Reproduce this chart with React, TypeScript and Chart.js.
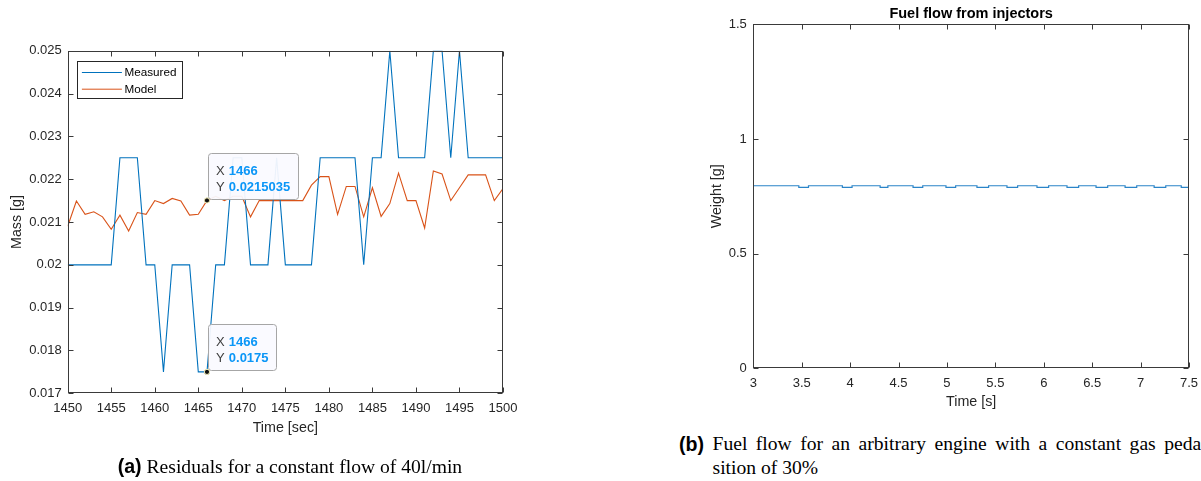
import React, { useEffect, useRef } from 'react';
import { Chart, registerables } from 'chart.js';

Chart.register(...registerables);

const SANS = "'Liberation Sans', Arial, Helvetica, sans-serif";
const SERIF = "'Liberation Serif', 'Times New Roman', serif";
const AXIS_TEXT = '#262626';

// ---------- (a) Residuals ----------
const residualTimes = [
  1450, 1451, 1452, 1453, 1454, 1455, 1456, 1457, 1458, 1459,
  1460, 1461, 1462, 1463, 1464, 1465, 1466, 1467, 1468, 1469,
  1470, 1471, 1472, 1473, 1474, 1475, 1476, 1477, 1478, 1479,
  1480, 1481, 1482, 1483, 1484, 1485, 1486, 1487, 1488, 1489,
  1490, 1491, 1492, 1493, 1494, 1495, 1496, 1497, 1498, 1499, 1500,
];
const measuredMass = [
  0.02, 0.02, 0.02, 0.02, 0.02, 0.02, 0.0225, 0.0225, 0.0225, 0.02,
  0.02, 0.0175, 0.02, 0.02, 0.02, 0.0175, 0.0175, 0.02, 0.02, 0.0225,
  0.0225, 0.02, 0.02, 0.02, 0.0225, 0.02, 0.02, 0.02, 0.02, 0.0225,
  0.0225, 0.0225, 0.0225, 0.0225, 0.02, 0.0225, 0.0225, 0.025, 0.0225, 0.0225,
  0.0225, 0.0225, 0.025, 0.025, 0.0225, 0.025, 0.0225, 0.0225, 0.0225, 0.0225, 0.0225,
];
const modelMass = [
  0.0209, 0.02149, 0.02118, 0.02124, 0.02112, 0.02083, 0.02116, 0.02079, 0.02122, 0.02118,
  0.0215, 0.02143, 0.02155, 0.02149, 0.02116, 0.02118, 0.0215035, 0.0216, 0.0215, 0.0216,
  0.0216, 0.02112, 0.0215, 0.0215, 0.0215, 0.0215, 0.0215, 0.0215, 0.02186, 0.02206,
  0.02206, 0.02118, 0.02183, 0.02183, 0.02112, 0.0218, 0.02113, 0.02143, 0.02214, 0.0215,
  0.0215, 0.02086, 0.02219, 0.02212, 0.0215, 0.0218, 0.0221, 0.0221, 0.0221, 0.0215, 0.02178,
];
const residualSeriesNames = ['Measured', 'Model'];
const tipTimes = [1466, 1466];
const tipValues = [0.0215035, 0.0175];
const tipTexts = ['0.0215035', '0.0175'];

// ---------- (b) Fuel flow ----------
const fuelTimes = [
  3, 3.47, 3.57, 3.92, 4.02, 4.31, 4.39, 4.65, 4.75, 4.99, 5.09, 5.31, 5.43, 5.62,
  5.73, 5.93, 6.05, 6.24, 6.36, 6.54, 6.66, 6.84, 6.96, 7.14, 7.26, 7.42, 7.5,
];
const fuelWeights = [
  0.796, 0.789, 0.796, 0.789, 0.796, 0.789, 0.796, 0.789, 0.796, 0.789, 0.796, 0.789, 0.796, 0.789,
  0.796, 0.789, 0.796, 0.789, 0.796, 0.789, 0.796, 0.789, 0.796, 0.789, 0.796, 0.789, 0.789,
];

const fmt = (v: number | string) => String(+Number(v).toFixed(5));

const matlabFrame = {
  id: 'matlabFrame',
  afterDatasetsDraw(chart: any) {
    const { ctx, chartArea: a, scales } = chart;
    const L = Math.round(a.left) + 0.5;
    const R = Math.round(a.right) - 0.5;
    const T = Math.round(a.top) + 0.5;
    const B = Math.round(a.bottom) - 0.5;
    ctx.save();
    ctx.strokeStyle = '#3a3a3a';
    ctx.lineWidth = 1;
    ctx.strokeRect(L, T, R - L, B - T);
    ctx.beginPath();
    const len = 5;
    scales.x.ticks.forEach((t: any) => {
      const p = Math.round(scales.x.getPixelForValue(t.value)) + 0.5;
      ctx.moveTo(p, B); ctx.lineTo(p, B - len);
      ctx.moveTo(p, T); ctx.lineTo(p, T + len);
    });
    scales.y.ticks.forEach((t: any) => {
      const p = Math.round(scales.y.getPixelForValue(t.value)) + 0.5;
      ctx.moveTo(L, p); ctx.lineTo(L + len, p);
      ctx.moveTo(R, p); ctx.lineTo(R - len, p);
    });
    ctx.stroke();
    ctx.restore();
  },
};

const boxLegend = {
  id: 'boxLegend',
  afterDraw(chart: any, _args: any, opts: any) {
    if (!opts || !opts.show) return;
    const { ctx, chartArea: a } = chart;
    const x0 = Math.round(a.left + 9.6) + 0.5;
    const y0 = Math.round(a.top + 10.6) + 0.5;
    const w = 105;
    const h = 37;
    ctx.save();
    ctx.fillStyle = '#ffffff';
    ctx.fillRect(x0, y0, w, h);
    ctx.strokeStyle = '#262626';
    ctx.lineWidth = 1;
    ctx.strokeRect(x0, y0, w, h);
    chart.data.datasets.forEach((ds: any, i: number) => {
      const y = y0 + 11 + i * 16.7;
      ctx.strokeStyle = ds.borderColor;
      ctx.lineWidth = 1;
      ctx.beginPath();
      ctx.moveTo(x0 + 4.4, y);
      ctx.lineTo(x0 + 44.4, y);
      ctx.stroke();
      ctx.fillStyle = '#000000';
      ctx.font = `11.7px ${SANS}`;
      ctx.textBaseline = 'middle';
      ctx.textAlign = 'left';
      ctx.fillText(ds.label, x0 + 47, y + 0.5);
    });
    ctx.restore();
  },
};

const dataTips = {
  id: 'dataTips',
  afterDraw(chart: any, _args: any, opts: any) {
    if (!opts || !opts.show) return;
    const { ctx, scales } = chart;
    ctx.save();
    tipTimes.forEach((t, i) => {
      const px = scales.x.getPixelForValue(t);
      const py = scales.y.getPixelForValue(tipValues[i]);
      ctx.font = `bold 13px ${SANS}`;
      const valW = Math.max(ctx.measureText(String(t)).width, ctx.measureText(tipTexts[i]).width);
      const bx = Math.round(px + 1) + 0.5;
      const bh = 46;
      const by = Math.round(py - 1.5 - bh) + 0.5;
      const bw = Math.round(20.6 + valW + 8);
      ctx.beginPath();
      if (ctx.roundRect) ctx.roundRect(bx, by, bw, bh, 3); else ctx.rect(bx, by, bw, bh);
      ctx.fillStyle = 'rgba(250,250,255,0.94)';
      ctx.fill();
      ctx.strokeStyle = '#a6a6a6';
      ctx.lineWidth = 1;
      ctx.stroke();
      ctx.textBaseline = 'alphabetic';
      ctx.textAlign = 'left';
      ctx.font = `13px ${SANS}`;
      ctx.fillStyle = '#404040';
      ctx.fillText('X', bx + 7.5, by + 21);
      ctx.fillText('Y', bx + 7.5, by + 37);
      ctx.font = `bold 13px ${SANS}`;
      ctx.fillStyle = '#0a96f7';
      ctx.fillText(String(t), bx + 20.3, by + 21);
      ctx.fillText(tipTexts[i], bx + 20.3, by + 37);
      ctx.beginPath();
      ctx.arc(px, py, 2.6, 0, Math.PI * 2);
      ctx.fillStyle = '#111111';
      ctx.fill();
      ctx.strokeStyle = '#f4f0b8';
      ctx.lineWidth = 1;
      ctx.stroke();
    });
    ctx.restore();
  },
};

const topTitle = {
  id: 'topTitle',
  afterDraw(chart: any, _args: any, opts: any) {
    if (!opts || !opts.text) return;
    const { ctx, chartArea: a } = chart;
    ctx.save();
    ctx.font = `bold 14.5px ${SANS}`;
    ctx.fillStyle = '#000000';
    ctx.textAlign = 'center';
    ctx.textBaseline = 'alphabetic';
    ctx.fillText(opts.text, (a.left + a.right) / 2, a.top - 6.3);
    ctx.restore();
  },
};

function axisCommon(extra: any) {
  return {
    type: 'linear',
    grid: { display: false, drawTicks: false },
    border: { display: false },
    ...extra,
  };
}

function buildResiduals(canvas: HTMLCanvasElement) {
  const H = 460;
  return new Chart(canvas, {
    type: 'line',
    data: {
      datasets: [
        {
          label: residualSeriesNames[0],
          data: residualTimes.map((t, i) => ({ x: t, y: measuredMass[i] })),
          borderColor: '#0072BD',
          borderWidth: 1.1,
          pointRadius: 0,
          tension: 0,
        },
        {
          label: residualSeriesNames[1],
          data: residualTimes.map((t, i) => ({ x: t, y: modelMass[i] })),
          borderColor: '#D95319',
          borderWidth: 1.1,
          pointRadius: 0,
          tension: 0,
        },
      ],
    },
    options: {
      responsive: false,
      animation: false,
      events: [],
      layout: { padding: { left: 0, right: 17, top: 50.7, bottom: 0 } },
      plugins: {
        legend: { display: false },
        tooltip: { enabled: false },
        boxLegend: { show: true },
        dataTips: { show: true },
      } as any,
      scales: {
        x: axisCommon({
          min: 1450,
          max: 1500,
          ticks: { stepSize: 5, autoSkip: false, maxRotation: 0, padding: 7.5, color: AXIS_TEXT, font: { size: 13, family: SANS }, callback: (v: any) => fmt(v) },
          title: { display: true, text: 'Time [sec]', color: AXIS_TEXT, font: { size: 14.3, family: SANS }, padding: { top: 0, bottom: H - 428.5 - 8.58 } },
          afterFit: (s: any) => { s.height = H - 393.3; s.paddingLeft = 0; s.paddingRight = 0; },
        }),
        y: axisCommon({
          min: 0.017,
          max: 0.025,
          ticks: { stepSize: 0.001, autoSkip: false, padding: 6, color: AXIS_TEXT, font: { size: 13, family: SANS }, callback: (v: any) => fmt(v) },
          title: { display: true, text: 'Mass [g]', color: AXIS_TEXT, font: { size: 14.3, family: SANS }, padding: { top: 8.1, bottom: 0 } },
          afterFit: (s: any) => { s.width = 67.7; s.paddingTop = 0; s.paddingBottom = 0; },
        }),
      },
    } as any,
    plugins: [matlabFrame, boxLegend, dataTips],
  });
}

function buildFuel(canvas: HTMLCanvasElement) {
  const H = 420;
  return new Chart(canvas, {
    type: 'line',
    data: {
      datasets: [
        {
          label: 'Fuel flow',
          data: fuelTimes.map((t, i) => ({ x: t, y: fuelWeights[i] })),
          borderColor: '#2a84c8',
          borderWidth: 1.2,
          pointRadius: 0,
          stepped: true,
        },
      ],
    },
    options: {
      responsive: false,
      animation: false,
      events: [],
      layout: { padding: { left: 0, right: 12, top: 24.3, bottom: 0 } },
      plugins: {
        legend: { display: false },
        tooltip: { enabled: false },
        topTitle: { text: 'Fuel flow from injectors' },
      } as any,
      scales: {
        x: axisCommon({
          min: 3,
          max: 7.5,
          ticks: { stepSize: 0.5, autoSkip: false, maxRotation: 0, padding: 7.5, color: AXIS_TEXT, font: { size: 13, family: SANS }, callback: (v: any) => fmt(v) },
          title: { display: true, text: 'Time [s]', color: AXIS_TEXT, font: { size: 14.3, family: SANS }, padding: { top: 0, bottom: H - 402.5 - 8.58 } },
          afterFit: (s: any) => { s.height = H - 368.3; s.paddingLeft = 0; s.paddingRight = 0; },
        }),
        y: axisCommon({
          min: 0,
          max: 1.5,
          ticks: { stepSize: 0.5, autoSkip: false, padding: 6.5, color: AXIS_TEXT, font: { size: 13, family: SANS }, callback: (v: any) => fmt(v) },
          title: { display: true, text: 'Weight [g]', color: AXIS_TEXT, font: { size: 14.3, family: SANS }, padding: { top: 8.1, bottom: 0 } },
          afterFit: (s: any) => { s.width = 53.3; s.paddingTop = 0; s.paddingBottom = 0; },
        }),
      },
    } as any,
    plugins: [matlabFrame, topTitle],
  });
}

function ChartCanvas(props: { build: (c: HTMLCanvasElement) => Chart; left: number; top: number; width: number; height: number }) {
  const ref = useRef<HTMLCanvasElement>(null);
  useEffect(() => {
    const chart = props.build(ref.current as HTMLCanvasElement);
    return () => chart.destroy();
  }, []);
  return (
    <canvas
      ref={ref}
      width={props.width}
      height={props.height}
      style={{ position: 'absolute', left: props.left, top: props.top, width: props.width, height: props.height }}
    />
  );
}

export default function App() {
  return (
    <div style={{ position: 'absolute', left: 0, top: 0, width: 1201, height: 481, overflow: 'hidden', background: '#ffffff' }}>
      <ChartCanvas build={buildResiduals} left={0} top={0} width={520} height={460} />
      <ChartCanvas build={buildFuel} left={700} top={0} width={501} height={420} />
      <div style={{ position: 'absolute', left: 117.7, top: 453.5, whiteSpace: 'nowrap', fontFamily: SERIF, fontSize: 19.6, lineHeight: '24px', color: '#000' }}>
        <span style={{ fontFamily: SANS, fontWeight: 'bold' }}>(a)</span> Residuals for a constant flow of 40l/min
      </div>
      <div style={{ position: 'absolute', left: 679, top: 431.5, whiteSpace: 'nowrap', fontFamily: SANS, fontWeight: 'bold', fontSize: 19.6, lineHeight: '24px', color: '#000' }}>
        (b)
      </div>
      <div style={{ position: 'absolute', left: 712.5, top: 431.5, whiteSpace: 'nowrap', fontFamily: SERIF, fontSize: 19.6, lineHeight: '24px', color: '#000' }}>
        <div style={{ wordSpacing: 3.6 }}>Fuel flow for an arbitrary engine with a constant gas pedal po-</div>
        <div>sition of 30%</div>
      </div>
    </div>
  );
}
